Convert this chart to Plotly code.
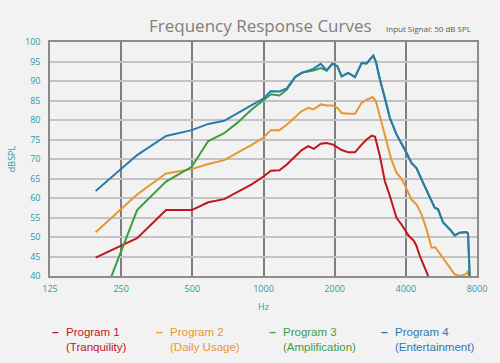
import plotly.graph_objects as go

# ---- data ----
p1_freq = [195, 292, 387, 497, 584, 682, 891, 1000, 1074, 1168, 1255, 1360, 1451, 1548, 1632, 1746, 1851, 1970,
           2052, 2141, 2284, 2437, 2601, 2730, 2873, 2964, 3108, 3262, 3424, 3652, 3835, 3955, 4113, 4327, 4437,
           4588, 4734, 4893, 4973]
p1_db = [44.7, 49.7, 56.9, 56.9, 58.9, 59.7, 63.5, 65.5, 67.0, 67.1, 68.6, 70.7, 72.3, 73.3, 72.6, 73.9, 74.1, 73.7,
         73.1, 72.3, 71.7, 71.7, 73.7, 75.0, 76.0, 75.7, 70.7, 64.3, 60.5, 54.9, 53.2, 52.0, 50.3, 49.0, 47.7,
         45.1, 43.0, 40.9, 40.0]

p2_freq = [195, 292, 387, 497, 584, 682, 891, 1000, 1074, 1168, 1255, 1360, 1451, 1548, 1625, 1746, 1851, 1970,
           2052, 2141, 2284, 2437, 2601, 2730, 2895, 2988, 3159, 3312, 3474, 3652, 3835, 4025, 4225, 4437, 4662,
           4893, 5134, 5334, 5665, 6059, 6439, 6860, 7210, 7331, 7400]
p2_db = [51.2, 60.9, 66.3, 67.4, 68.7, 69.7, 73.6, 75.5, 77.4, 77.4, 78.8, 80.8, 82.3, 83.1, 82.7, 84.0, 83.7, 83.7,
         83.1, 81.8, 81.6, 81.6, 84.4, 85.2, 85.9, 84.8, 79.3, 74.1, 69.9, 66.5, 64.9, 62.4, 59.6, 58.4, 55.8,
         52.0, 47.3, 47.3, 45.1, 42.6, 40.4, 40.0, 40.5, 41.3, 40.0]

p3_freq = [195, 292, 387, 497, 584, 682, 772, 891, 1000, 1074, 1168, 1255, 1360, 1451, 1625, 1746, 1851, 1955,
           2052, 2141, 2284, 2437, 2601, 2730, 2912, 2988, 3108, 3262, 3424, 3652, 3835, 4025, 4225, 4437, 4734,
           5049, 5300, 5476, 5748, 6133, 6439, 6759, 7210, 7331, 7450]
p3_db = [29.5, 56.9, 64.2, 68.0, 74.6, 76.6, 79.2, 82.7, 85.1, 86.6, 86.3, 87.8, 91.0, 92.1, 92.7, 93.3, 92.7, 94.4,
         93.8, 91.2, 92.1, 91.0, 94.6, 94.5, 96.5, 95.0, 90.4, 85.7, 80.5, 76.3, 74.1, 71.6, 69.0, 67.7, 63.9,
         60.1, 57.5, 57.1, 53.7, 52.0, 50.4, 51.1, 51.3, 50.9, 40.0]

p4_freq = [195, 292, 387, 497, 584, 682, 891, 1000, 1074, 1168, 1255, 1360, 1451, 1625, 1746, 1851, 1955,
           2052, 2141, 2284, 2437, 2601, 2730, 2912, 2988, 3108, 3262, 3424, 3652, 3835, 4025, 4225, 4437, 4734,
           5049, 5300, 5476, 5748, 6133, 6439, 6759, 7210, 7331, 7450]
p4_db = [61.8, 71.0, 75.9, 77.4, 79.0, 79.8, 83.8, 85.5, 87.4, 87.3, 88.1, 91.0, 92.1, 93.1, 94.4, 92.7, 94.4,
         93.8, 91.2, 92.1, 91.0, 94.6, 94.5, 96.5, 95.0, 90.4, 85.7, 80.5, 76.3, 74.1, 71.6, 69.0, 67.7, 63.9,
         60.1, 57.5, 57.1, 53.7, 52.0, 50.4, 51.1, 51.3, 50.9, 40.0]

series_names = ["Program 1", "Program 2", "Program 3", "Program 4"]
series_sub = ["(Tranquility)", "(Daily Usage)", "(Amplification)", "(Entertainment)"]
series_colors = ["#c0161d", "#e8962e", "#3a9e43", "#2b7aae"]

x_ticks = [125, 250, 500, 1000, 2000, 4000, 8000]
y_ticks = list(range(40, 101, 5))

# ---- figure ----
W, H = 500, 363
L, R, T, B = 50, 23, 42, 87
pw, ph = W - L - R, H - T - B

def px_x(px):
    return (px - L) / pw

def px_y(py):
    return (H - B - py) / ph

fig = go.Figure()
data = [(p1_freq, p1_db), (p2_freq, p2_db), (p3_freq, p3_db), (p4_freq, p4_db)]
for (fx, dy), name, col in zip(data, series_names, series_colors):
    fig.add_trace(go.Scatter(x=fx, y=dy, mode="lines", name=name,
                             line=dict(color=col, width=2), showlegend=False))

teal = "#2a9d9a"
fig.update_layout(
    width=W, height=H,
    margin=dict(l=L, r=R, t=T, b=B, autoexpand=False),
    paper_bgcolor="#f2f2f2", plot_bgcolor="#f2f2f2",
    font=dict(family="Open Sans", color=teal, size=9),
)
fig.update_xaxes(type="log", range=[2.09691, 3.90309], tickvals=x_ticks,
                 ticktext=[str(v) for v in x_ticks], automargin=False,
                 showgrid=True, gridcolor="#7f7f7f", gridwidth=1.5,
                 showline=True, linecolor="#8c8c8c", linewidth=1.5, mirror=True,
                 ticks="", zeroline=False, ticklabelstandoff=3,
                 tickfont=dict(size=9, color=teal),
                 title=dict(text="Hz", font=dict(size=9, color=teal), standoff=10))
fig.update_yaxes(range=[40, 100], tickvals=y_ticks, automargin=False,
                 showgrid=True, gridcolor="#c3c3c3", gridwidth=1.5,
                 showline=True, linecolor="#8c8c8c", linewidth=1.5, mirror=True,
                 ticks="", zeroline=False, ticklabelstandoff=6,
                 tickfont=dict(size=9, color=teal),
                 title=dict(text="dBSPL", font=dict(size=9, color=teal), standoff=8))

# title
fig.add_annotation(text="Frequency Response Curves", xref="paper", yref="paper",
                   x=px_x(260), y=px_y(25), xanchor="center", yanchor="middle", showarrow=False,
                   font=dict(family="Open Sans", size=17, color="#7f7f7f"))
fig.add_annotation(text="Input Signal: 50 dB SPL", xref="paper", yref="paper",
                   x=px_x(428), y=px_y(28), xanchor="center", yanchor="middle", showarrow=False,
                   font=dict(family="Open Sans", size=8, color="#595959"))

# legend (as annotations)
leg_x = [50, 154, 267, 379]
for lx, name, sub, col in zip(leg_x, series_names, series_sub, series_colors):
    fig.add_annotation(text="<b>–</b>", xref="paper", yref="paper", x=px_x(lx), y=px_y(332),
                       xanchor="left", yanchor="middle", showarrow=False,
                       font=dict(family="Liberation Sans", size=12, color=col))
    fig.add_annotation(text=name + "<br>" + sub, xref="paper", yref="paper",
                       x=px_x(lx + 14), y=px_y(339), xanchor="left", yanchor="middle",
                       align="left", showarrow=False,
                       font=dict(family="Liberation Sans", size=11.5, color=col))

fig.write_html("out.html", config={"displayModeBar": False},
               post_script="document.body.style.margin='0';")
